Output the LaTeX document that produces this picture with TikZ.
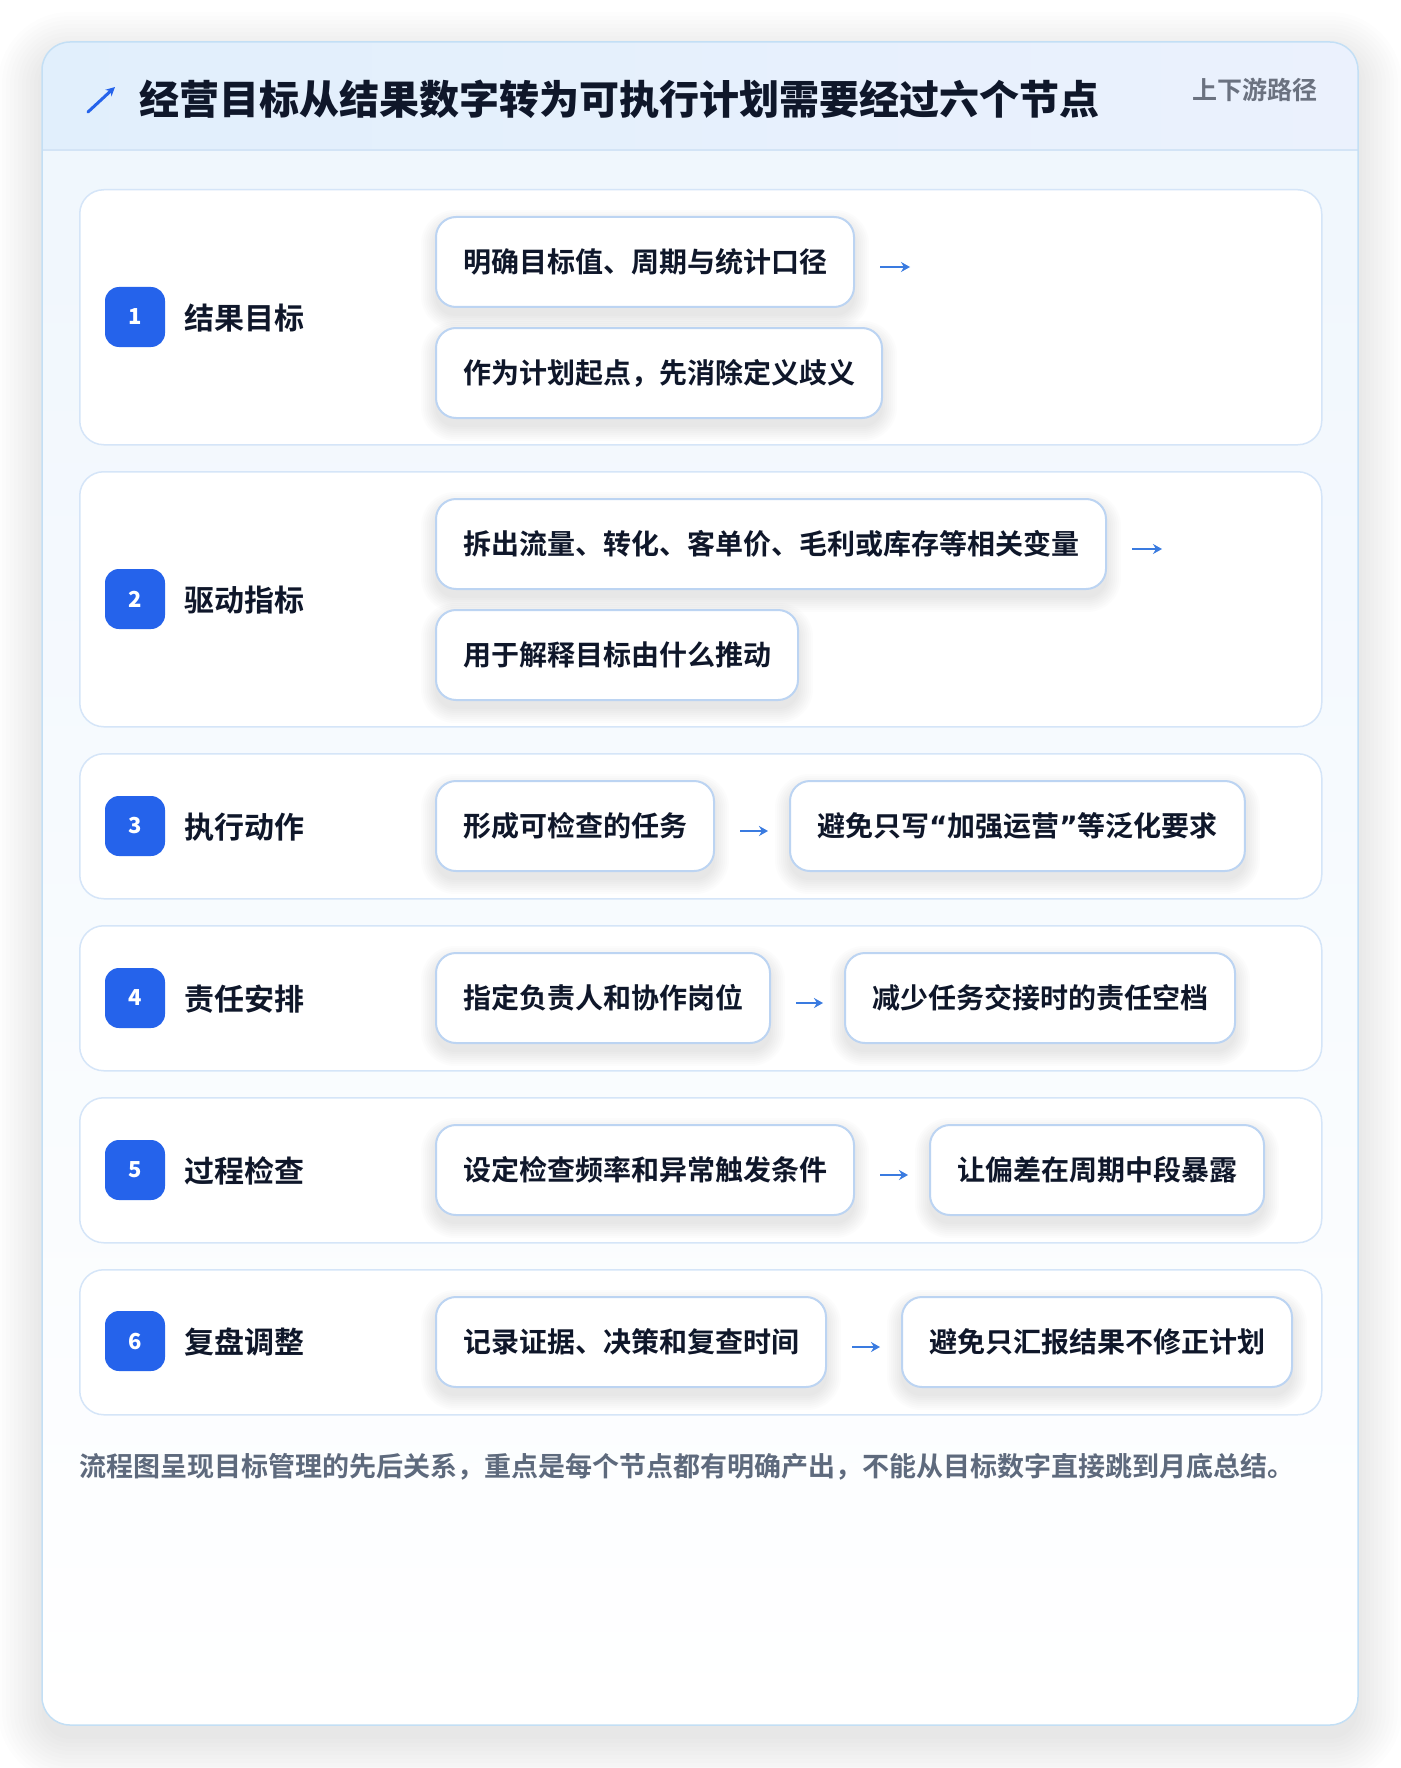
\documentclass[tikz,border=0pt]{standalone}
\usepackage{fontspec}
\setmainfont{Noto Sans CJK SC}[BoldFont={Noto Sans CJK SC Bold}]
\newfontfamily\blackfont{Noto Sans CJK SC Black}
\newfontfamily\latinq{DejaVu Sans}
\usetikzlibrary{arrows.meta}
\definecolor{badgeblue}{HTML}{2563EB}
\definecolor{ink}{HTML}{0F172A}
\definecolor{rowline}{HTML}{D5E5F8}
\definecolor{subline}{HTML}{BCD4F2}
\definecolor{arrowblue}{HTML}{3A7BE0}
\definecolor{cardborder}{HTML}{C3DFF5}
\definecolor{hdrL}{HTML}{E1EFFC}
\definecolor{hdrR}{HTML}{EBF1FD}
\definecolor{hdrline}{HTML}{D3E4F6}
\definecolor{cardtop}{HTML}{EFF6FD}
\definecolor{tagray}{HTML}{6B7280}
\definecolor{footgray}{HTML}{5E6A7D}
\pgfdeclarelayer{page}
\pgfdeclarelayer{back}
\pgfdeclarelayer{shad}
\pgfsetlayers{page,back,shad,main}
\newcommand\softshadow[2]{%
  \begin{pgfonlayer}{shad}
    \foreach \s in {0,2,...,14}{
      \fill[black, opacity=0.011, rounded corners=#2+\s]
        ([xshift=-\s, yshift=-8+\s]#1.north west) rectangle ([xshift=\s, yshift=-8-\s]#1.south east);
    }
  \end{pgfonlayer}}
\tikzset{
  rowbox/.style={draw=rowline, line width=1.5pt, fill=white, rounded corners=24pt,
    minimum width=1242pt, anchor=north west, inner sep=0pt},
  subbox/.style={draw=subline, line width=2pt, fill=white, rounded corners=20pt,
    minimum height=90pt, inner xsep=27pt, inner ysep=0pt, anchor=north west,
    font=\fontsize{28}{32}\selectfont\bfseries, text=ink},
  badge/.style={fill=badgeblue, rounded corners=14pt, minimum size=60pt, inner sep=0pt,
    text=white, font=\fontsize{22}{24}\selectfont\blackfont},
  lab/.style={anchor=west, inner sep=0pt, text=ink, font=\fontsize{30}{34}\selectfont\bfseries},
  flow/.style={-{Stealth[length=9pt,width=10pt]}, draw=arrowblue, line width=2.5pt}
}
\begin{document}
\begin{tikzpicture}[x=1pt,y=-1pt]
\useasboundingbox (0,0) rectangle (1400,1768);
\begin{pgfonlayer}{page}
\fill[white] (0,0) rectangle (1400,1768);
\foreach \s in {0,4,...,44}{
  \fill[black, opacity=0.006, rounded corners=28+\s]
    (42-\s,42-\s+14) rectangle (1358+\s,1725+\s+14);
}
\end{pgfonlayer}
\begin{pgfonlayer}{back}
\shade[top color=cardtop, bottom color=white, rounded corners=28pt] (42,42) rectangle (1358,1725);
\begin{scope}
  \clip[rounded corners=28pt] (42,42) rectangle (1358,1725);
  \shade[left color=hdrL, right color=hdrR] (42,42) rectangle (1358,150);
\end{scope}
\draw[hdrline, line width=1.5pt] (42,150) -- (1358,150);
\draw[cardborder, line width=1.5pt, rounded corners=28pt] (42,42) rectangle (1358,1725);
\end{pgfonlayer}
% header
\draw[badgeblue, line width=3pt, -{Stealth[length=9pt,width=9pt]}, line cap=round] (88,112) -- (115,87);
\node[anchor=west, inner sep=0pt, text=ink, font=\fontsize{40}{44}\selectfont\blackfont] (title) at (139,99)
  {经营目标从结果数字转为可执行计划需要经过六个节点};
\node[anchor=east, inner sep=0pt, text=tagray, font=\fontsize{25}{28}\selectfont\bfseries] (tag) at (1318,90) {上下游路径};
% rows
\begin{pgfonlayer}{back}
\node[rowbox, minimum height=255pt] (r1) at (79,189) {};
\node[rowbox, minimum height=255pt] (r2) at (79,471) {};
\node[rowbox, minimum height=145pt] (r3) at (79,753) {};
\node[rowbox, minimum height=145pt] (r4) at (79,925) {};
\node[rowbox, minimum height=145pt] (r5) at (79,1097) {};
\node[rowbox, minimum height=145pt] (r6) at (79,1269) {};
\end{pgfonlayer}
% row 1
\node[badge] (b1) at (135,317) {1};
\node[lab] (l1) at (184,318) {结果目标};
\node[subbox] (a1) at (435,216) {明确目标值、周期与统计口径};
\node[subbox] (c1) at (435,327) {作为计划起点，先消除定义歧义};
\softshadow{a1}{20}\softshadow{c1}{20}
\coordinate (e1) at ([xshift=55pt,yshift=-5pt]a1.east);
\draw[flow] ([xshift=25pt,yshift=-5pt]a1.east) -- (e1);
% row 2
\node[badge] (b2) at (135,599) {2};
\node[lab] (l2) at (184,600) {驱动指标};
\node[subbox] (a2) at (435,498) {拆出流量、转化、客单价、毛利或库存等相关变量};
\node[subbox] (c2) at (435,609) {用于解释目标由什么推动};
\softshadow{a2}{20}\softshadow{c2}{20}
\coordinate (e2) at ([xshift=55pt,yshift=-5pt]a2.east);
\draw[flow] ([xshift=25pt,yshift=-5pt]a2.east) -- (e2);
% row 3
\node[badge] (b3) at (135,826) {3};
\node[lab] (l3) at (184,827) {执行动作};
\node[subbox] (a3) at (435,780) {形成可检查的任务};
\node[subbox] (c3) at (789,780) {避免只写{\latinq\bfseries “}加强运营{\latinq\bfseries ”}等泛化要求};
\softshadow{a3}{20}\softshadow{c3}{20}
\draw[flow] ([xshift=25pt,yshift=-5pt]a3.east) -- ([xshift=-21pt,yshift=-5pt]c3.west);
% row 4
\node[badge] (b4) at (135,998) {4};
\node[lab] (l4) at (184,999) {责任安排};
\node[subbox] (a4) at (435,952) {指定负责人和协作岗位};
\node[subbox] (c4) at (844,952) {减少任务交接时的责任空档};
\softshadow{a4}{20}\softshadow{c4}{20}
\draw[flow] ([xshift=25pt,yshift=-5pt]a4.east) -- ([xshift=-21pt,yshift=-5pt]c4.west);
% row 5
\node[badge] (b5) at (135,1170) {5};
\node[lab] (l5) at (184,1171) {过程检查};
\node[subbox] (a5) at (435,1124) {设定检查频率和异常触发条件};
\node[subbox] (c5) at (929,1124) {让偏差在周期中段暴露};
\softshadow{a5}{20}\softshadow{c5}{20}
\draw[flow] ([xshift=25pt,yshift=-5pt]a5.east) -- ([xshift=-21pt,yshift=-5pt]c5.west);
% row 6
\node[badge] (b6) at (135,1341) {6};
\node[lab] (l6) at (184,1342) {复盘调整};
\node[subbox] (a6) at (435,1296) {记录证据、决策和复查时间};
\node[subbox] (c6) at (901,1296) {避免只汇报结果不修正计划};
\softshadow{a6}{20}\softshadow{c6}{20}
\draw[flow] ([xshift=25pt,yshift=-5pt]a6.east) -- ([xshift=-21pt,yshift=-5pt]c6.west);
% footer
\node[anchor=west, inner sep=0pt, text=footgray, font=\fontsize{27}{30}\selectfont\bfseries] (foot) at (79,1467)
  {流程图呈现目标管理的先后关系，重点是每个节点都有明确产出，不能从目标数字直接跳到月底总结。};
\end{tikzpicture}
\end{document}
